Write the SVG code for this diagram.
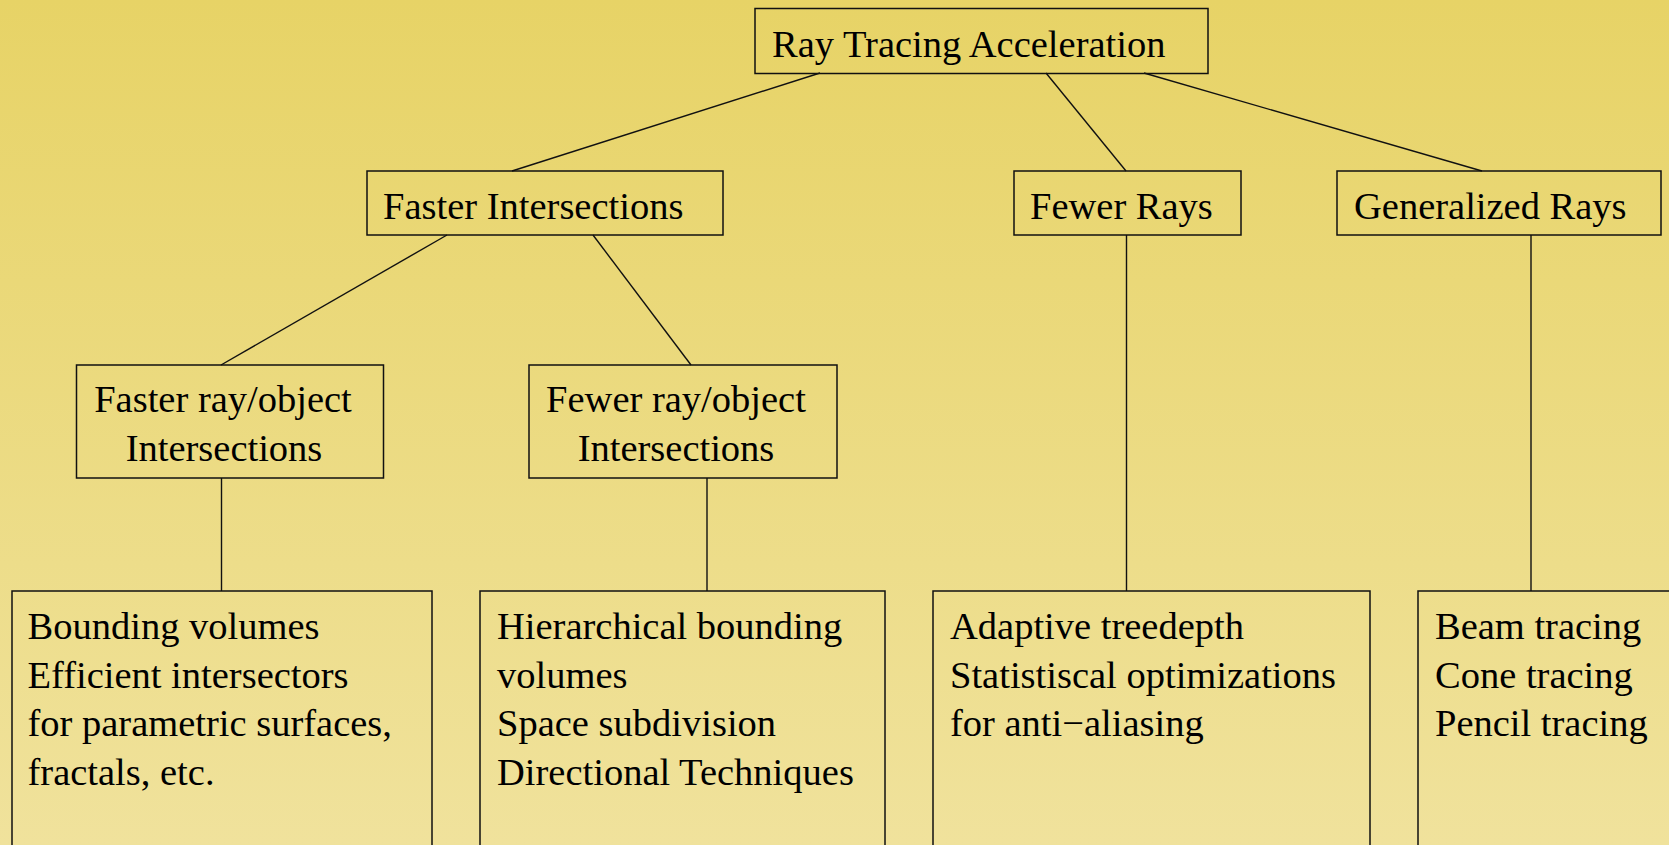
<svg xmlns="http://www.w3.org/2000/svg" width="1669" height="845" viewBox="0 0 1669 845">
  <defs>
    <linearGradient id="bg" x1="0" y1="0" x2="0" y2="1">
      <stop offset="0" stop-color="#e7d366"/>
      <stop offset="1" stop-color="#f0e29c"/>
    </linearGradient>
    <style>
      .box { fill: none; stroke: #111; stroke-width: 1.5; }
      .edge { fill: none; stroke: #111; stroke-width: 1.4; }
      text { font-family: "Liberation Serif", "Times New Roman", serif; font-size: 38.5px; fill: #000; }
      .mid { text-anchor: middle; }
    </style>
  </defs>

  <rect x="0" y="0" width="1669" height="845" fill="url(#bg)"/>

  <!-- connectors -->
  <g id="connectors">
    <line class="edge" x1="820" y1="73" x2="512" y2="171"/>
    <line class="edge" x1="1046" y1="73" x2="1126" y2="171"/>
    <line class="edge" x1="1144" y1="73" x2="1482" y2="171"/>
    <line class="edge" x1="447" y1="235" x2="221" y2="365"/>
    <line class="edge" x1="593" y1="235" x2="691" y2="365"/>
    <line class="edge" x1="221.5" y1="478" x2="221.5" y2="591"/>
    <line class="edge" x1="707" y1="478" x2="707" y2="591"/>
    <line class="edge" x1="1126.5" y1="235" x2="1126.5" y2="591"/>
    <line class="edge" x1="1531" y1="235" x2="1531" y2="591"/>
  </g>

  <!-- root -->
  <g id="root">
    <rect class="box" x="755" y="8.5" width="453" height="65"/>
    <text x="772" y="57">Ray Tracing Acceleration</text>
  </g>

  <!-- second level -->
  <g id="faster-intersections">
    <rect class="box" x="367" y="171" width="356" height="64"/>
    <text x="383" y="219">Faster Intersections</text>
  </g>
  <g id="fewer-rays">
    <rect class="box" x="1014" y="171" width="227" height="64"/>
    <text x="1030" y="219">Fewer Rays</text>
  </g>
  <g id="generalized-rays">
    <rect class="box" x="1337" y="171" width="324" height="64"/>
    <text x="1354" y="219">Generalized Rays</text>
  </g>

  <!-- third level -->
  <g id="faster-ray-object">
    <rect class="box" x="76.5" y="365" width="307" height="113"/>
    <text class="mid" x="223" y="412">Faster ray/object</text>
    <text class="mid" x="224" y="461">Intersections</text>
  </g>
  <g id="fewer-ray-object">
    <rect class="box" x="529" y="365" width="308" height="113"/>
    <text class="mid" x="676" y="412">Fewer ray/object</text>
    <text class="mid" x="676" y="461">Intersections</text>
  </g>

  <!-- leaf lists -->
  <g id="list-faster">
    <rect class="box" x="12" y="591" width="420" height="270"/>
    <text x="27.5" y="639">Bounding volumes</text>
    <text x="27.5" y="687.5">Efficient intersectors</text>
    <text x="27.5" y="736">for parametric surfaces,</text>
    <text x="27.5" y="784.5">fractals, etc.</text>
  </g>
  <g id="list-fewer">
    <rect class="box" x="480" y="591" width="405" height="270"/>
    <text x="497" y="639">Hierarchical bounding</text>
    <text x="497" y="687.5">volumes</text>
    <text x="497" y="736">Space subdivision</text>
    <text x="497" y="784.5">Directional Techniques</text>
  </g>
  <g id="list-rays">
    <rect class="box" x="933" y="591" width="437" height="270"/>
    <text x="950" y="639">Adaptive treedepth</text>
    <text x="950" y="687.5">Statistiscal optimizations</text>
    <text x="950" y="736">for anti&#8722;aliasing</text>
  </g>
  <g id="list-generalized">
    <rect class="box" x="1418" y="591" width="300" height="270"/>
    <text x="1435" y="639">Beam tracing</text>
    <text x="1435" y="687.5">Cone tracing</text>
    <text x="1435" y="736">Pencil tracing</text>
  </g>
</svg>
